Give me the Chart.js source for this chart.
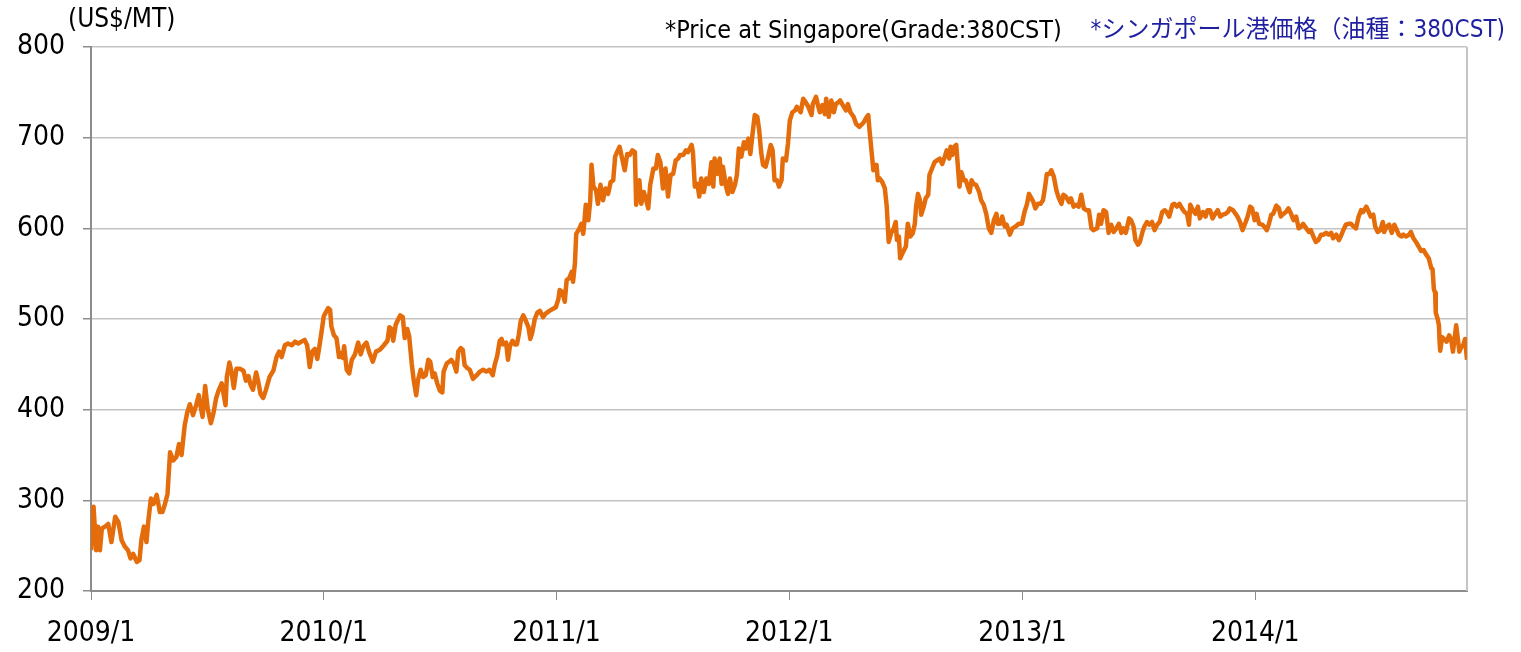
<!DOCTYPE html>
<html lang="ja">
<head>
<meta charset="utf-8" />
<title>Bunker price 380CST Singapore</title>
<style>
  * { margin: 0; padding: 0; }
  body { background: #fff; }
</style>
</head>
<body>
<canvas id="myChart" width="1521" height="652"></canvas>

<script src="https://cdn.jsdelivr.net/npm/chart.js@4.4.0/dist/chart.umd.min.js"></script>
<script>
// days since 2009/1/1, price in US$/MT
const days = [
  0,4,8,11,14,17,22,27,32,38,43,48,53,58,62,66,72,76,79,83,87,90,94,98,103,108,112,116,120,124,129,134,138,142,147,151,155,160,165,169,172,175,179,183,188,192,196,200,205,211,
  213,217,220,224,228,234,239,243,247,250,254,259,262,266,270,274,280,286,291,295,299,304,309,315,320,325,330,335,339,343,347,351,355,358,362,365,368,372,375,377,381,385,389,
  390,395,397,401,405,409,414,419,423,427,432,436,442,447,453,458,465,468,471,474,478,482,485,489,492,496,499,503,506,510,513,517,521,525,529,532,536,539,543,547,551,553,558,562,565,569,573,576,580,583,586,590,594,599,605,610,615,620,625,630,633,637,641,644,646,651,654,657,661,665,668,671,674,678,682,686,689,692,696,700,704,709,713,719,724,729,733,735,739,743,746,750,
  754,756,759,761,766,769,772,774,776,780,783,785,788,792,795,799,803,807,811,815,819,822,825,829,833,837,841,845,849,853,855,860,863,867,870,874,877,882,886,889,893,897,901,905,909,913,917,921,924,929,933,936,942,944,947,951,954,957,961,965,969,973,976,978,982,986,989,991,996,999,1002,1006,1010,1013,1016,1020,1024,1027,1031,1034,1037,1041,1045,1048,1051,1054,1058,1062,1066,1069,1072,1076,1079,1083,1085,1090,1093,1096,1100,1104,1107,
  1113,1117,1121,1125,1130,1132,1137,1140,1143,1147,1151,1153,1157,1161,1165,1168,1172,1175,1179,1184,1187,1191,1196,1200,1205,1208,1212,1215,1219,1221,1224,1227,1232,1234,1237,1241,1245,1248,1251,1255,1259,1262,1264,1267,1269,1273,1278,1281,1285,1289,1292,1294,1297,1300,1302,1306,1309,1313,1315,1319,1323,1327,1331,1335,1339,1342,1346,1348,1351,1354,1357,1360,1362,1365,1369,1372,1375,1378,1381,1384,1388,1393,1396,1400,1404,1408,1412,1416,1420,1422,1426,1429,1433,1436,1441,1445,1450,1455,1460,1464,1468,1471,1475,1478,1481,1485,
  1489,1493,1496,1499,1503,1506,1510,1514,1518,1522,1525,1529,1534,1537,1541,1545,1549,1553,1557,1561,1565,1569,1572,1578,1581,1584,1588,1592,1596,1600,1604,1608,1612,1616,1619,1623,1628,1631,1635,1638,1642,1645,1649,1652,1656,1660,1664,1668,1672,1676,1680,1684,1687,1691,1696,1699,1703,1707,1711,1715,1719,1722,1724,1728,1732,1736,1739,1744,1748,1751,1755,1759,1763,1767,1771,1775,1779,1783,1786,1791,1795,1798,1802,1806,1811,1814,1818,1821,1825,1828,1832,1837,1840,1844,
  1847,1851,1854,1859,1863,1866,1870,1874,1878,1882,1886,1890,1894,1898,1901,1906,1910,1913,1917,1921,1925,1929,1933,1937,1941,1945,1948,1953,1957,1960,1964,1968,1972,1976,1980,1984,1988,1992,1995,2000,2004,2007,2011,2014,2018,2022,2026,2028,2032,2036,2040,2044,2048,2051,2055,2058,2062,2067,2070,2074,2078,2082,2086,2090,2094,2098,2102,2104,2106,2108,2109,2112,2114,2115,2116,2119,2122,2126,2130,2133,2136,2138,2141,2143,2146,2149,2152,2155,2158
];
const prices = [
  245,293,245,271,245,269,271,274,254,282,276,256,249,245,236,241,232,234,256,271,254,278,302,296,306,287,287,296,307,353,344,348,362,350,383,397,406,394,405,416,403,392,426,401,385,396,412,421,429,405,
  436,452,443,424,445,445,443,432,437,428,422,441,432,417,413,421,436,443,458,464,458,471,473,471,475,473,475,477,471,447,464,467,456,469,488,503,507,512,510,492,482,479,458,
  463,457,470,444,440,455,461,474,461,470,474,464,453,464,466,470,476,491,489,476,494,500,504,502,479,489,481,451,433,416,433,444,436,438,455,453,436,440,429,421,419,442,451,453,455,451,442,464,468,466,449,446,444,434,438,442,444,442,444,438,449,459,476,478,472,474,455,470,476,472,472,483,498,504,498,491,478,485,500,507,509,502,506,509,511,513,522,532,530,519,543,545,
  552,541,562,594,600,605,594,609,626,609,631,670,646,642,627,648,631,644,638,651,653,679,684,690,677,664,682,681,686,684,626,653,627,640,633,622,648,666,666,681,673,644,666,635,659,660,675,677,681,681,686,684,692,684,646,649,635,655,640,655,649,673,646,677,660,677,649,668,646,638,655,640,648,659,688,679,695,688,699,682,701,725,723,708,684,670,668,679,692,686,653,653,646,653,677,675,693,719,728,730,734,
  728,743,739,734,725,737,745,736,728,736,726,743,723,741,728,737,739,741,736,730,737,728,723,715,712,714,717,721,725,708,686,664,670,653,655,651,644,624,585,595,600,607,587,591,567,573,580,605,591,595,605,624,638,631,615,624,633,637,659,666,673,675,677,671,679,686,677,690,681,690,692,664,646,662,653,653,646,640,653,649,648,640,631,626,616,600,595,609,616,605,605,613,602,604,593,600,602,605,605,618,627,638,633,629,622,627,
  627,631,644,660,660,664,657,642,633,627,637,635,629,633,624,626,624,637,622,620,620,600,598,600,615,605,620,618,595,604,596,600,605,595,600,595,611,609,602,587,582,585,596,602,607,604,607,598,604,607,618,620,618,613,626,627,624,627,622,618,616,604,626,620,616,624,611,618,613,620,620,611,616,620,613,615,616,618,622,620,616,613,607,598,607,613,624,622,609,616,605,604,602,598,
  604,615,616,625,622,613,616,618,622,616,609,613,600,602,605,600,596,598,591,585,587,593,593,595,593,595,589,593,587,591,598,604,605,605,602,600,613,620,618,624,618,613,615,602,596,598,607,596,602,604,595,604,598,593,591,593,591,593,596,589,585,580,575,576,571,567,556,555,533,529,507,500,493,475,465,480,478,475,482,478,464,475,493,482,464,469,471,478,455
];
const yearTicks = [0, 365, 730, 1095, 1461, 1826];
const yearLabels = ["2009/1", "2010/1", "2011/1", "2012/1", "2013/1", "2014/1"];
const lastDay = 2158;

const FONT = "'DejaVu Sans Condensed', 'DejaVu Sans', 'Noto Sans CJK JP', sans-serif";

// unit label, source notes and the light right-hand frame line
const notesPlugin = {
  id: "notes",
  beforeDatasetsDraw(chart) {
    const { ctx, chartArea } = chart;
    ctx.save();
    ctx.strokeStyle = "#c4c4c4";
    ctx.lineWidth = 2;
    ctx.beginPath();
    ctx.moveTo(chartArea.right, chartArea.top);
    ctx.lineTo(chartArea.right, chartArea.bottom);
    ctx.stroke();
    ctx.restore();
  },
  afterDraw(chart) {
    const ctx = chart.ctx;
    ctx.save();
    ctx.textBaseline = "middle";
    ctx.fillStyle = "#000";
    ctx.textAlign = "left";
    ctx.font = "26px " + FONT;
    ctx.fillText("(US$/MT)", 68, 20);
    ctx.font = "25px " + FONT;
    ctx.fillText("*Price at Singapore(Grade:380CST)", 665, 31);
    ctx.fillStyle = "#1f1f9f";
    ctx.textAlign = "right";
    ctx.font = "24px " + FONT;
    ctx.fillText("*シンガポール港価格（油種：380CST)", 1505, 31);
    ctx.restore();
  }
};

const data = {
  datasets: [
    {
      label: "380CST",
      data: days.map((d, i) => ({ x: d, y: prices[i] })),
      borderColor: "#E46C0A",
      borderWidth: 4.5,
      pointRadius: 0,
      tension: 0,
      borderJoinStyle: "round",
      fill: false,
    },
  ],
};

const config = {
  type: "line",
  data: data,
  plugins: [notesPlugin],
  options: {
    responsive: false,
    animation: false,
    layout: { padding: { top: 47, right: 54, left: 0, bottom: 0 } },
    plugins: { legend: { display: false }, tooltip: { enabled: false } },
    scales: {
      x: {
        type: "linear",
        min: 0,
        max: lastDay,
        afterBuildTicks: (s) => { s.ticks = yearTicks.map((v) => ({ value: v })); },
        afterFit: (s) => { s.height = 61; },
        border: { color: "#8c8c8c", width: 2 },
        grid: { drawOnChartArea: false, tickLength: 9, tickColor: "#8c8c8c" },
        ticks: {
          autoSkip: false,
          maxRotation: 0,
          padding: 17,
          color: "#000",
          font: { family: FONT, size: 28 },
          callback: (v, i) => yearLabels[i],
        },
      },
      y: {
        min: 200,
        max: 800,
        afterFit: (s) => { s.width = 91; },
        border: { color: "#8c8c8c", width: 2 },
        grid: { color: "#c4c4c4", lineWidth: 1.5, tickLength: 8, tickColor: "#8c8c8c" },
        ticks: {
          stepSize: 100,
          padding: 18,
          color: "#000",
          font: { family: FONT, size: 28 },
        },
      },
    },
  },
};

const ctx = document.getElementById("myChart");
const myChart = new Chart(ctx, config);
</script>
</body>
</html>
